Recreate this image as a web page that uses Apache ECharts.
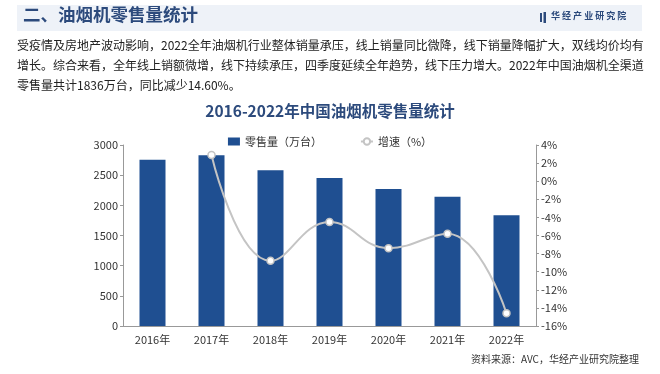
<!DOCTYPE html>
<html><head><meta charset="utf-8">
<script src="https://cdn.jsdelivr.net/npm/echarts@6/dist/echarts.min.js"></script>
<style>html,body{margin:0;padding:0;background:#fff}#c{width:660px;height:374px}</style>
</head><body><div id="c"></div>
<script>
const categories = ['2016年','2017年','2018年','2019年','2020年','2021年','2022年'];
const retailVolume = [2757, 2829, 2580, 2452, 2270, 2142, 1836];
const growthRate = [null, 2.9, -8.8, -4.5, -7.4, -5.8, -14.6];
const leftTicks = {min: 0, max: 3000, interval: 500};
const rightTicks = {min: -16, max: 4, interval: 2};
const bodyLines = [
  '受疫情及房地产波动影响，2022全年油烟机行业整体销量承压，线上销量同比微降，线下销量降幅扩大，双线均价均有',
  '增长。综合来看，全年线上销额微增，线下持续承压，四季度延续全年趋势，线下压力增大。2022年中国油烟机全渠道',
  '零售量共计1836万台，同比减少14.60%。'
];
const font = '"Noto Sans CJK SC", "Microsoft YaHei", sans-serif';
const chart = echarts.init(document.getElementById('c'));
const graphics = [
  {type:'rect', shape:{x:17,y:5,width:625,height:26}, style:{fill:'#eef2f8'}},
  {type:'text', left:23, top:6, style:{text:'二、油烟机零售量统计', fill:'#2c4a7c', font:'bold 17.5px '+font}},
  {type:'rect', shape:{x:540,y:13,width:2,height:9}, style:{fill:'#2c4a7c'}},
  {type:'rect', shape:{x:543.5,y:12,width:2.5,height:11}, style:{fill:'#2c4a7c'}},
  {type:'text', left:551, top:11, style:{text:'华 经 产 业 研 究 院', fill:'#2c4a7c', font:'bold 9px '+font}},
  {type:'text', right:21, top:354, style:{text:'资料来源：AVC，华经产业研究院整理', fill:'#333', font:'10px '+font, align:'right'}}
];
bodyLines.forEach((t,i)=>{
  graphics.push({type:'text', left:17, top:39+i*20, style:{text:t, fill:'#222', font:'12px '+font}});
});
chart.setOption({
  animation:false,
  textStyle:{fontFamily:font},
  title:{text:'2016-2022年中国油烟机零售量统计', left:'center', top:98,
    textStyle:{fontSize:15.5, fontWeight:'bold', color:'#2c4a7c', fontFamily:font}},
  legend:{top:131, left:'center', itemGap:38, itemWidth:12, itemHeight:8,
    textStyle:{fontSize:11, color:'#333'},
    data:[{name:'零售量（万台）', icon:'rect'}, {name:'增速（%）'}]},
  grid:{left:123, right:124, top:145, bottom:48},
  xAxis:{type:'category', data:categories,
    axisLine:{lineStyle:{color:'#999'}},
    axisTick:{length:4, lineStyle:{color:'#999'}},
    axisLabel:{color:'#333', fontSize:11, margin:8}},
  yAxis:[
    {type:'value', min:leftTicks.min, max:leftTicks.max, interval:leftTicks.interval,
     splitLine:{show:false}, axisLine:{show:true, lineStyle:{color:'#999'}},
     axisTick:{show:true, length:3, lineStyle:{color:'#999'}},
     axisLabel:{color:'#333', fontSize:11, margin:5, formatter:v=>String(v)}},
    {type:'value', min:rightTicks.min, max:rightTicks.max, interval:rightTicks.interval,
     splitLine:{show:false}, axisLine:{show:true, lineStyle:{color:'#999'}},
     axisTick:{show:true, length:3, lineStyle:{color:'#999'}},
     axisLabel:{color:'#333', fontSize:11, margin:5, formatter:'{value}%'}}
  ],
  series:[
    {name:'零售量（万台）', type:'bar', data:retailVolume, barWidth:26,
     itemStyle:{color:'#1f4f91'}},
    {name:'增速（%）', type:'line', yAxisIndex:1, data:growthRate, smooth:0.45,
     symbol:'circle', symbolSize:7, showSymbol:true,
     lineStyle:{color:'#c4c4c4', width:2},
     itemStyle:{color:'#fff', borderColor:'#c4c4c4', borderWidth:1.5}}
  ],
  graphic:graphics
});
</script></body></html>
